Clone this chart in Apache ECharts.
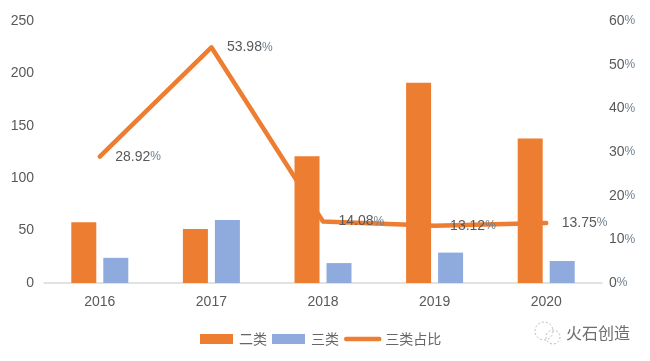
<!DOCTYPE html>
<html>
<head>
<meta charset="utf-8">
<style>
  html, body { margin: 0; padding: 0; background: #fff; }
  #chart { width: 650px; height: 361px; }
</style>
</head>
<body>
<div id="chart"></div>
<script src="https://cdn.jsdelivr.net/npm/echarts@6/dist/echarts.min.js"></script>
<script>
var years = ['2016', '2017', '2018', '2019', '2020'];
var erLei = [58, 51.5, 121, 191, 138];
var sanLei = [24, 60, 19, 29, 21];
var sanLeiRatio = [28.92, 53.98, 14.08, 13.12, 13.75];

var textColor = '#595959';
var fontName = '"Liberation Sans", "Noto Sans CJK SC", sans-serif';
// 原图的百分号比数字窄
var percentRich = {
  p: { color: '#6f7f8f', fontSize: 12, fontFamily: '"Liberation Sans Narrow", "Liberation Sans", sans-serif' }
};

var chart = echarts.init(document.getElementById('chart'));

chart.setOption({
  animation: false,
  backgroundColor: '#fff',
  textStyle: { fontFamily: fontName },
  grid: { left: 44, right: 48, top: 21, bottom: 78 },
  legend: {
    left: 195,
    top: 327,
    itemWidth: 33,
    itemHeight: 10,
    itemGap: 5,
    textStyle: { color: '#666', fontSize: 14, fontFamily: '"Noto Sans CJK SC", sans-serif', padding: [0, 0, 0, 1] },
    data: [
      { name: '二类', icon: 'rect' },
      { name: '三类', icon: 'rect' },
      // 只要线，不要圆点
      { name: '三类占比', itemStyle: { opacity: 0 }, lineStyle: { color: '#ED7D31', width: 4.5, cap: 'round' } }
    ]
  },
  xAxis: {
    type: 'category',
    data: years,
    axisLine: { lineStyle: { color: '#D9D9D9', width: 1.5 } },
    axisTick: { show: false },
    axisLabel: { color: textColor, fontSize: 14, margin: 12 }
  },
  yAxis: [
    {
      type: 'value',
      min: 0,
      max: 250,
      interval: 50,
      splitLine: { show: false },
      axisLine: { show: false },
      axisTick: { show: false },
      axisLabel: { color: textColor, fontSize: 14, margin: 10 }
    },
    {
      type: 'value',
      min: 0,
      max: 60,
      interval: 10,
      splitLine: { show: false },
      axisLine: { show: false },
      axisTick: { show: false },
      axisLabel: { color: textColor, fontSize: 14, margin: 7, formatter: '{value}{p|%}', rich: percentRich }
    }
  ],
  series: [
    {
      name: '三类占比',
      type: 'line',
      yAxisIndex: 1,
      z: 1,
      data: sanLeiRatio,
      symbol: 'circle',
      symbolSize: 1,
      showAllSymbol: true,
      lineStyle: { color: '#ED7D31', width: 4.5, cap: 'round', join: 'round' },
      itemStyle: { color: '#ED7D31' },
      label: {
        show: true,
        position: 'right',
        distance: 15,
        color: textColor,
        fontSize: 14,
        rich: percentRich,
        formatter: function (p) { return p.value.toFixed(2) + '{p|%}'; }
      }
    },
    {
      name: '二类',
      type: 'bar',
      z: 2,
      data: erLei,
      barWidth: 25,
      barGap: '28%',
      itemStyle: { color: '#ED7D31' }
    },
    {
      name: '三类',
      type: 'bar',
      z: 2,
      data: sanLei,
      barWidth: 25,
      itemStyle: { color: '#8FAADC' }
    }
  ],
  graphic: [
    // 水印
    {
      type: 'circle',
      shape: { cx: 544, cy: 331, r: 9 },
      style: { fill: 'none', stroke: '#bbb', lineWidth: 1, lineDash: [2, 2] }
    },
    {
      type: 'circle',
      shape: { cx: 553, cy: 337, r: 7 },
      style: { fill: 'none', stroke: '#bbb', lineWidth: 1, lineDash: [2, 2] }
    },
    {
      type: 'text',
      left: 566,
      top: 325,
      style: { text: '火石创造', fill: '#6e6e6e', font: '16px "Noto Sans CJK SC", sans-serif' }
    }
  ]
});
</script>
</body>
</html>
